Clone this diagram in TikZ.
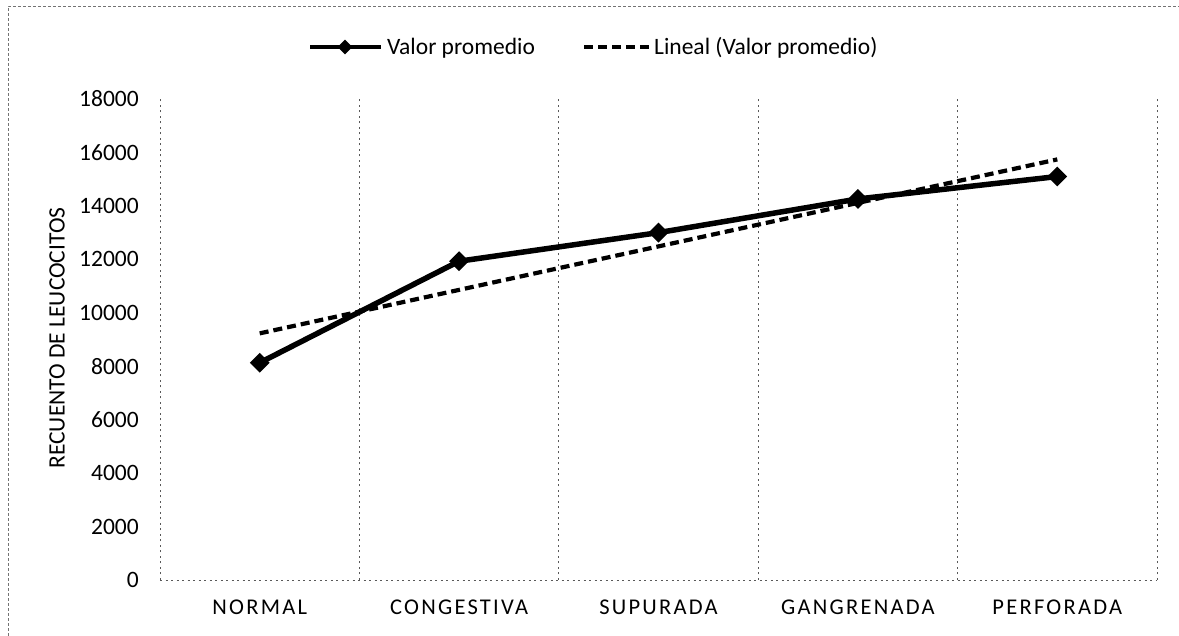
\documentclass[tikz,border=0pt]{standalone}
\usepackage{fontspec}
\setmainfont{Carlito}
\newfontfamily\catfont[LetterSpace=10]{Carlito}
\usetikzlibrary{shapes.geometric}
\begin{document}
\begin{tikzpicture}[x=1pt, y=1pt, line join=round]

	\tikzset{txt style/.style={font=\fontsize{23.5}{28}\selectfont, inner sep=0pt},
		cat style/.style={font=\catfont\fontsize{22.5}{27}\selectfont, inner sep=0pt},
		grid style/.style={black!65, line width=.8pt, dash pattern=on 2pt off 3.5pt},
		serie/.style={line width=5.5pt},
		trend/.style={line width=4.2pt, dash pattern=on 9pt off 5pt},
		marker/.style={diamond, fill=black, inner sep=0pt, minimum size=20pt}}

	\useasboundingbox (0,0) rectangle (1179,636);
	\draw[black!55, line width=.8pt, dash pattern=on 3pt off 2pt] (8,0)--(8,630)--(1179,630);

	\begin{scope}[shift={(160,56)}, x=199.4pt, y=26.72pt]
	\foreach \g in {0,...,5}
	\draw[grid style] (\g,0)--(\g,18);
	\draw[grid style] (0,0)--(5,0);
	\foreach \v/\lab in {0/0,2/2000,4/4000,6/6000,8/8000,10/10000,12/12000,14/14000,16/16000,18/18000}
	\node[txt style, anchor=east] (tick\v) at ([xshift=-21pt]0,\v) {\lab};
	\foreach \c [count=\i] in {NORMAL,CONGESTIVA,SUPURADA,GANGRENADA,PERFORADA}
	\node[cat style] (cat\i) at ([yshift=-27pt]\i-.5,0) {\c};
	\coordinate (t1) at (.5,9.23);
	\coordinate (t5) at (4.5,15.74);
	\draw[trend] (t1)--(t5);
	\foreach \v [count=\i] in {8.13,11.93,13.0,14.26,15.1}
	\node[marker] (m\i) at (\i-.5,\v) {};
	\draw[serie] (m1.center)--(m2.center)--(m3.center)--(m4.center)--(m5.center);
	\end{scope}

	\node[txt style, rotate=90] (ylab) at (57,298) {RECUENTO DE LEUCOCITOS};

	\coordinate (la) at (310,589);
	\coordinate (lb) at (381,589);
	\draw[serie, line width=4.5pt] (la)--(lb);
	\node[marker, minimum size=15pt] (lm) at (345,589) {};
	\node[txt style, anchor=base west] (l1) at (387,581) {Valor promedio};
	\coordinate (lc) at (584,589);
	\coordinate (ld) at (650,589);
	\draw[trend] (lc)--(ld);
	\node[txt style, anchor=base west] (l2) at (654,581) {Lineal (Valor promedio)};
\end{tikzpicture}
\end{document}
